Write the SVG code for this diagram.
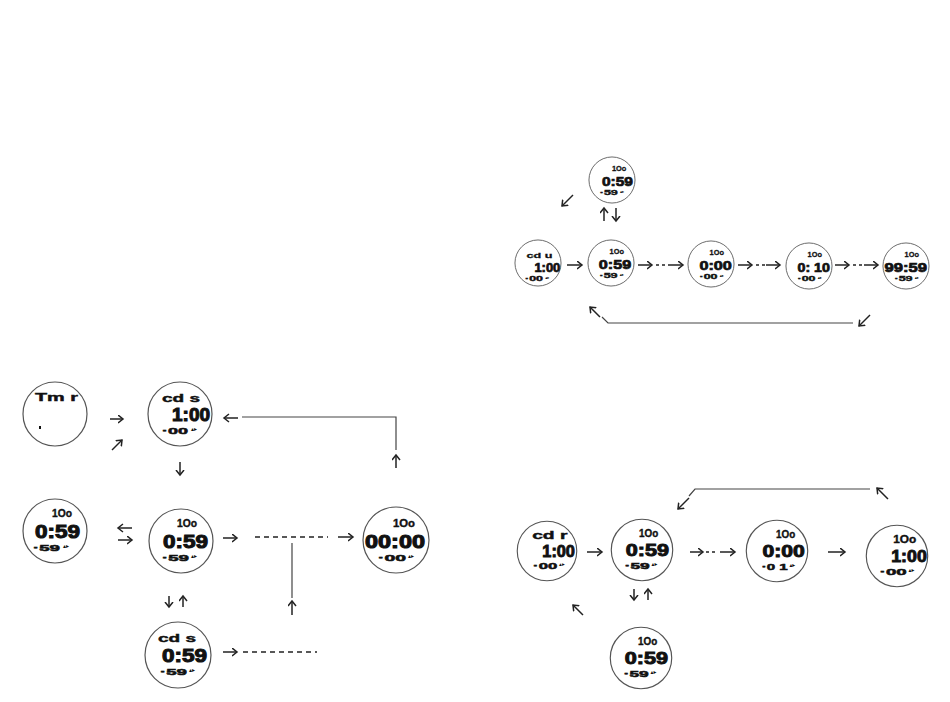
<svg xmlns="http://www.w3.org/2000/svg" width="950" height="702" viewBox="0 0 950 702">
<style>
.c{fill:#fff;stroke:#555;stroke-width:1.2}
.s,.l,.m,.b{font-family:"Liberation Sans",Arial,sans-serif;font-weight:bold;fill:#111}
.s{font-size:11px;stroke:#111;stroke-width:0.4}
.l{font-size:11px;stroke:#111;stroke-width:0.4}
.m{font-size:18px;stroke:#111;stroke-width:1}
.b{font-size:9px;stroke:#111;stroke-width:0.5}
.k{font-family:"DejaVu Sans",sans-serif;font-size:6px;fill:#111}
.a{stroke:#222;stroke-width:1.5;fill:none;marker-end:url(#ah)}
.ln{stroke:#444;stroke-width:1.2;fill:none}
.d{stroke:#222;stroke-width:1.5;fill:none;stroke-dasharray:5 4}
.dt{stroke:#222;stroke-width:1.5;fill:none;stroke-dasharray:3 3}
</style>
<defs>
<marker id="ah" markerUnits="userSpaceOnUse" markerWidth="8" markerHeight="10" refX="5.5" refY="4.5" orient="auto">
<path d="M0.5,0.5 L5.5,4.5 L0.5,8.5" fill="none" stroke="#222" stroke-width="1.5"/>
</marker>
</defs>
<rect width="950" height="702" fill="#fff"/>

<!-- top-right nodes -->
<g id="tr1" transform="translate(612,180) scale(0.72)">
<circle class="c" r="32"/>
<text class="s" x="0" y="-12" textLength="20" lengthAdjust="spacingAndGlyphs">1Oo</text>
<text class="m" x="-14" y="8.5" textLength="43" lengthAdjust="spacingAndGlyphs">0:59</text>
<text class="b" x="-17" y="21.5" textLength="25" lengthAdjust="spacingAndGlyphs">·59</text>
<text class="k" x="11" y="18.5">▴▸</text>
</g>
<g id="tr2" transform="translate(538,263) scale(0.72)">
<circle class="c" r="32"/>
<text class="l" x="-16" y="-6.5" textLength="36" lengthAdjust="spacingAndGlyphs">cd u</text>
<text class="m" x="-5" y="12" textLength="36" lengthAdjust="spacingAndGlyphs">1:00</text>
<text class="b" x="-18" y="25" textLength="25" lengthAdjust="spacingAndGlyphs">·00</text>
<text class="k" x="10" y="22">▴▸</text>
</g>
<g id="tr3" transform="translate(611,263) scale(0.72)">
<circle class="c" r="32"/>
<text class="s" x="-2" y="-12" textLength="20" lengthAdjust="spacingAndGlyphs">1Oo</text>
<text class="m" x="-17" y="8" textLength="45" lengthAdjust="spacingAndGlyphs">0:59</text>
<text class="b" x="-16" y="21" textLength="25" lengthAdjust="spacingAndGlyphs">·59</text>
<text class="k" x="12" y="18">▴▸</text>
</g>
<g id="tr4" transform="translate(711,264) scale(0.72)">
<circle class="c" r="32"/>
<text class="s" x="-2" y="-12" textLength="20" lengthAdjust="spacingAndGlyphs">1Oo</text>
<text class="m" x="-16" y="8" textLength="45" lengthAdjust="spacingAndGlyphs">0:00</text>
<text class="b" x="-16" y="21" textLength="25" lengthAdjust="spacingAndGlyphs">·00</text>
<text class="k" x="12" y="18">▴▸</text>
</g>
<g id="tr5" transform="translate(809,266) scale(0.72)">
<circle class="c" r="32"/>
<text class="s" x="-2" y="-12" textLength="20" lengthAdjust="spacingAndGlyphs">1Oo</text>
<text class="m" x="-16" y="8" textLength="45" lengthAdjust="spacingAndGlyphs">0: 10</text>
<text class="b" x="-16" y="21" textLength="25" lengthAdjust="spacingAndGlyphs">·00</text>
<text class="k" x="12" y="18">▴▸</text>
</g>
<g id="tr6" transform="translate(906,266) scale(0.72)">
<circle class="c" r="32"/>
<text class="s" x="-2" y="-12" textLength="20" lengthAdjust="spacingAndGlyphs">1Oo</text>
<text class="m" x="-30" y="8" textLength="59" lengthAdjust="spacingAndGlyphs">99:59</text>
<text class="b" x="-16" y="21" textLength="25" lengthAdjust="spacingAndGlyphs">·59</text>
<text class="k" x="12" y="18">▴▸</text>
</g>

<!-- bottom-left nodes -->
<g id="bl1" transform="translate(55,414)">
<circle class="c" r="32"/>
<text class="l" x="-20" y="-13" textLength="43" lengthAdjust="spacingAndGlyphs">Tm r</text>
<rect x="-16" y="12" width="2" height="3" fill="#111"/>
</g>
<g id="bl2" transform="translate(180,414)">
<circle class="c" r="32"/>
<text class="l" x="-18" y="-12.5" textLength="38" lengthAdjust="spacingAndGlyphs">cd s</text>
<text class="m" x="-8" y="6.5" textLength="38" lengthAdjust="spacingAndGlyphs">1:00</text>
<text class="b" x="-18" y="19.5" textLength="26" lengthAdjust="spacingAndGlyphs">·00</text>
<text class="k" x="11" y="16.5">▴▸</text>
</g>
<g id="bl3" transform="translate(55,531)">
<circle class="c" r="32"/>
<text class="s" x="-3" y="-14" textLength="20" lengthAdjust="spacingAndGlyphs">1Oo</text>
<text class="m" x="-20" y="7" textLength="45" lengthAdjust="spacingAndGlyphs">0:59</text>
<text class="b" x="-22" y="20" textLength="27" lengthAdjust="spacingAndGlyphs">·59</text>
<text class="k" x="8" y="17">▴▸</text>
</g>
<g id="bl4" transform="translate(181,541)">
<circle class="c" r="32"/>
<text class="s" x="-4" y="-14" textLength="20" lengthAdjust="spacingAndGlyphs">1Oo</text>
<text class="m" x="-18" y="6.5" textLength="45" lengthAdjust="spacingAndGlyphs">0:59</text>
<text class="b" x="-19" y="19.5" textLength="27" lengthAdjust="spacingAndGlyphs">·59</text>
<text class="k" x="10" y="16.5">▴▸</text>
</g>
<g id="bl5" transform="translate(178,655)">
<circle class="c" r="33"/>
<text class="l" x="-20" y="-13" textLength="38" lengthAdjust="spacingAndGlyphs">cd s</text>
<text class="m" x="-16" y="6.5" textLength="45" lengthAdjust="spacingAndGlyphs">0:59</text>
<text class="b" x="-18" y="19.5" textLength="27" lengthAdjust="spacingAndGlyphs">·59</text>
<text class="k" x="11" y="16.5">▴▸</text>
</g>
<g id="bl6" transform="translate(396,540)">
<circle class="c" r="33"/>
<text class="s" x="-3" y="-13" textLength="22" lengthAdjust="spacingAndGlyphs">1Oo</text>
<text class="m" x="-31" y="7.5" textLength="60" lengthAdjust="spacingAndGlyphs">00:00</text>
<text class="b" x="-18" y="21" textLength="28" lengthAdjust="spacingAndGlyphs">·00</text>
<text class="k" x="12" y="18">▴▸</text>
</g>

<!-- bottom-right nodes -->
<g id="br1" transform="translate(547,551) scale(0.93)">
<circle class="c" r="32"/>
<text class="l" x="-16" y="-13" textLength="38" lengthAdjust="spacingAndGlyphs">cd r</text>
<text class="m" x="-5" y="6.5" textLength="35" lengthAdjust="spacingAndGlyphs">1:00</text>
<text class="b" x="-15" y="19.5" textLength="26" lengthAdjust="spacingAndGlyphs">·00</text>
<text class="k" x="13" y="16.5">▴▸</text>
</g>
<g id="br2" transform="translate(642,550) scale(0.96)">
<circle class="c" r="32"/>
<text class="s" x="-3" y="-14" textLength="20" lengthAdjust="spacingAndGlyphs">1Oo</text>
<text class="m" x="-17" y="6.5" textLength="45" lengthAdjust="spacingAndGlyphs">0:59</text>
<text class="b" x="-18" y="19.5" textLength="26" lengthAdjust="spacingAndGlyphs">·59</text>
<text class="k" x="10" y="16.5">▴▸</text>
</g>
<g id="br3" transform="translate(641,658) scale(0.96)">
<circle class="c" r="32"/>
<text class="s" x="-3" y="-14" textLength="20" lengthAdjust="spacingAndGlyphs">1Oo</text>
<text class="m" x="-17" y="6.5" textLength="45" lengthAdjust="spacingAndGlyphs">0:59</text>
<text class="b" x="-18" y="19.5" textLength="26" lengthAdjust="spacingAndGlyphs">·59</text>
<text class="k" x="10" y="16.5">▴▸</text>
</g>
<g id="br4" transform="translate(777,551) scale(0.96)">
<circle class="c" r="32"/>
<text class="s" x="-1" y="-14" textLength="20" lengthAdjust="spacingAndGlyphs">1Oo</text>
<text class="m" x="-15" y="6.5" textLength="44" lengthAdjust="spacingAndGlyphs">0:00</text>
<text class="b" x="-16" y="20" textLength="27" lengthAdjust="spacingAndGlyphs">·0 1</text>
<text class="k" x="13" y="17">▴▸</text>
</g>
<g id="br5" transform="translate(897,556) scale(0.96)">
<circle class="c" r="32"/>
<text class="s" x="-4" y="-14" textLength="24" lengthAdjust="spacingAndGlyphs">1Oo</text>
<text class="m" x="-6" y="6" textLength="37" lengthAdjust="spacingAndGlyphs">1:00</text>
<text class="b" x="-18" y="19.5" textLength="28" lengthAdjust="spacingAndGlyphs">·00</text>
<text class="k" x="12" y="16.5">▴▸</text>
</g>

<!-- connectors -->
<g id="connectors">
<path class="a" d="M573,195 L562,206"/>
<path class="a" d="M604,221 L604,208"/>
<path class="a" d="M616,208 L616,221"/>
<path class="a" d="M567,265 L582,265"/>
<path class="a" d="M638,265 L652,265"/><path class="dt" d="M656,265 L667,265"/><path class="a" d="M668,265 L683,265"/>
<path class="a" d="M738,265 L752,265"/><path class="dt" d="M756,265 L766,265"/><path class="a" d="M766,265 L780,265"/>
<path class="a" d="M835,265 L849,265"/><path class="dt" d="M853,265 L863,265"/><path class="a" d="M864,265 L878,265"/>
<path class="ln" d="M853,323 L608,323 L602,317"/>
<path class="a" d="M600,317 L590,307"/>
<path class="a" d="M870,315 L859,326"/>
<path class="a" d="M110,419 L123,419"/>
<path class="a" d="M112,450 L122,440"/>
<path class="a" d="M180,462 L180,475"/>
<path class="ln" d="M396,450 L396,417 L242,417"/>
<path class="a" d="M238,418 L224,418"/>
<path class="a" d="M396,468 L396,455"/>
<path class="a" d="M132,528 L118,528"/>
<path class="a" d="M118,540 L132,540"/>
<path class="a" d="M223,538 L237,538"/>
<path class="d" d="M255,537 L328,537"/>
<path class="a" d="M338,537 L353,537"/>
<path class="ln" d="M292,543 L292,598"/>
<path class="a" d="M292,615 L292,601"/>
<path class="a" d="M169,596 L169,607"/>
<path class="a" d="M183,607 L183,596"/>
<path class="a" d="M223,652 L237,652"/>
<path class="d" d="M243,652 L317,652"/>
<path class="a" d="M587,552 L602,552"/>
<path class="a" d="M690,552 L703,552"/><path class="dt" d="M706,552 L717,552"/><path class="a" d="M720,552 L735,552"/>
<path class="a" d="M828,552 L845,552"/>
<path class="a" d="M634,589 L634,600"/>
<path class="a" d="M648,600 L648,589"/>
<path class="a" d="M583,615 L573,605"/>
<path class="ln" d="M870,489 L695,489 L689,496"/>
<path class="a" d="M689,498 L678,509"/>
<path class="a" d="M888,499 L877,488"/>
</g>
</svg>
